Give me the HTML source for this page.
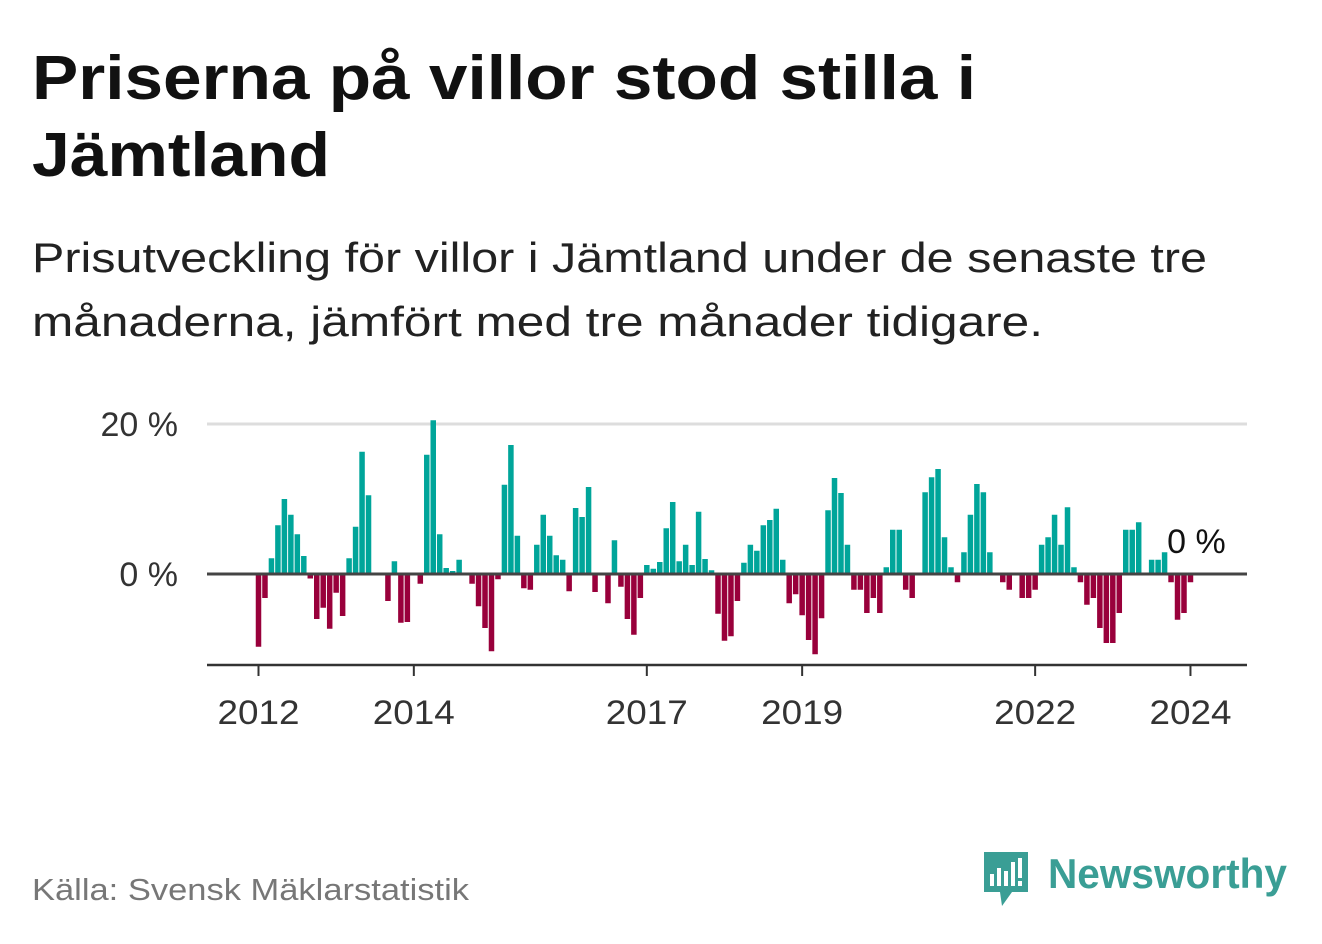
<!DOCTYPE html>
<html><head><meta charset="utf-8"><style>
body{margin:0;background:#fff;width:1322px;height:939px;overflow:hidden;font-family:"Liberation Sans",sans-serif;}
</style></head><body>
<svg width="1322" height="939" viewBox="0 0 1322 939">
<text x="32" y="99" font-size="62" font-weight="bold" fill="#111" textLength="944" lengthAdjust="spacingAndGlyphs">Priserna på villor stod stilla i</text>
<text x="32" y="176" font-size="62" font-weight="bold" fill="#111" textLength="298" lengthAdjust="spacingAndGlyphs">Jämtland</text>
<text x="32" y="272" font-size="42" fill="#222" textLength="1175" lengthAdjust="spacingAndGlyphs">Prisutveckling för villor i Jämtland under de senaste tre</text>
<text x="32" y="336" font-size="42" fill="#222" textLength="1011" lengthAdjust="spacingAndGlyphs">månaderna, jämfört med tre månader tidigare.</text>
<g id="plot"></g>
<text x="32" y="900" font-size="31" fill="#777" textLength="437" lengthAdjust="spacingAndGlyphs">Källa: Svensk Mäklarstatistik</text>
<g>
<path d="M984 852 h44 v40 h-16 l-10 14 l-2 -14 h-16 z" fill="#3a9e95"/>
<rect x="990" y="874" width="4" height="12" fill="#fff"/><rect x="997" y="868" width="4" height="18" fill="#fff"/><rect x="1004" y="871" width="4" height="15" fill="#fff"/><rect x="1011" y="862" width="4" height="24" fill="#fff"/><rect x="1018" y="858" width="4" height="20" fill="#fff"/><rect x="1018" y="881" width="4" height="5" fill="#fff"/>
<text x="1048" y="888" font-size="42" font-weight="bold" fill="#3a9e95" textLength="239" lengthAdjust="spacingAndGlyphs">Newsworthy</text>
</g>
</svg>
<script>
const values=[-9.7,-3.2,2.1,6.5,10,7.9,5.3,2.4,-0.6,-6,-4.5,-7.3,-2.5,-5.6,2.1,6.3,16.3,10.5,0,0,-3.6,1.7,-6.5,-6.4,0,-1.3,15.9,20.5,5.3,0.8,0.4,1.9,0,-1.3,-4.3,-7.2,-10.3,-0.7,11.9,17.2,5.1,-1.9,-2.1,3.9,7.9,5.1,2.5,1.9,-2.3,8.8,7.6,11.6,-2.4,0,-3.9,4.5,-1.7,-6,-8.1,-3.2,1.2,0.7,1.6,6.1,9.6,1.7,3.9,1.2,8.3,2,0.5,-5.3,-8.9,-8.3,-3.6,1.5,3.9,3.1,6.5,7.2,8.7,1.9,-3.9,-2.7,-5.5,-8.8,-10.7,-5.9,8.5,12.8,10.8,3.9,-2.1,-2.1,-5.2,-3.2,-5.2,0.9,5.9,5.9,-2.1,-3.2,0,10.9,12.9,14,4.9,0.9,-1.1,2.9,7.9,12,10.9,2.9,0,-1.1,-2.1,0,-3.2,-3.2,-2.1,3.9,4.9,7.9,3.9,8.9,0.9,-1.1,-4.1,-3.2,-7.2,-9.2,-9.2,-5.2,5.9,5.9,6.9,0,1.9,1.9,2.9,-1.1,-6.1,-5.2,-1.1];
const startYear=2012;
const xTicks=[2012,2014,2017,2019,2022,2024];
const yTicks=[0,20];
const lastLabel="0 %";
const NS="http://www.w3.org/2000/svg";
const g=document.getElementById('plot');
const x=i=>258.5+i*6.472;
const xYear=yr=>x((yr-startYear)*12);
const y=v=>574-7.5*v;
function mk(t,a){const e=document.createElementNS(NS,t);for(const k in a)e.setAttribute(k,a[k]);g.appendChild(e);return e;}
yTicks.forEach(v=>{
  if(v!==0){const l=mk('line',{x1:207,x2:1247,y1:y(v),y2:y(v),stroke:'#ddd','stroke-width':3});
  
  }
  const t=mk('text',{x:178,y:y(v)+12,'font-size':34,fill:'#333','text-anchor':'end'});
  t.textContent=v+' %';
  
  
});
values.forEach((v,i)=>{
  if(v===0)return;
  const r=mk('rect',{x:x(i)-2.75,width:5.5,y:v>0?y(v):y(0),height:Math.abs(v)*7.5,fill:v>0?'#00a59a':'#99003b'});
  
  
});
const z=mk('line',{x1:207,x2:1247,y1:y(0),y2:y(0),stroke:'#444','stroke-width':3});


const ax=mk('line',{x1:207,x2:1247,y1:665,y2:665,stroke:'#333','stroke-width':2.5});


xTicks.forEach(yr=>{
  const tk=mk('line',{x1:xYear(yr),x2:xYear(yr),y1:665,y2:676,stroke:'#333','stroke-width':2});
  
  
  const t=mk('text',{x:xYear(yr),y:724,'font-size':34,fill:'#333','text-anchor':'middle',textLength:82,lengthAdjust:'spacingAndGlyphs'});
  t.textContent=yr;
  
  
});
const lv=mk('text',{x:x(values.length-1)+6,y:553,'font-size':34,fill:'#111','text-anchor':'middle'});
lv.textContent=lastLabel;


</script>
</body></html>
